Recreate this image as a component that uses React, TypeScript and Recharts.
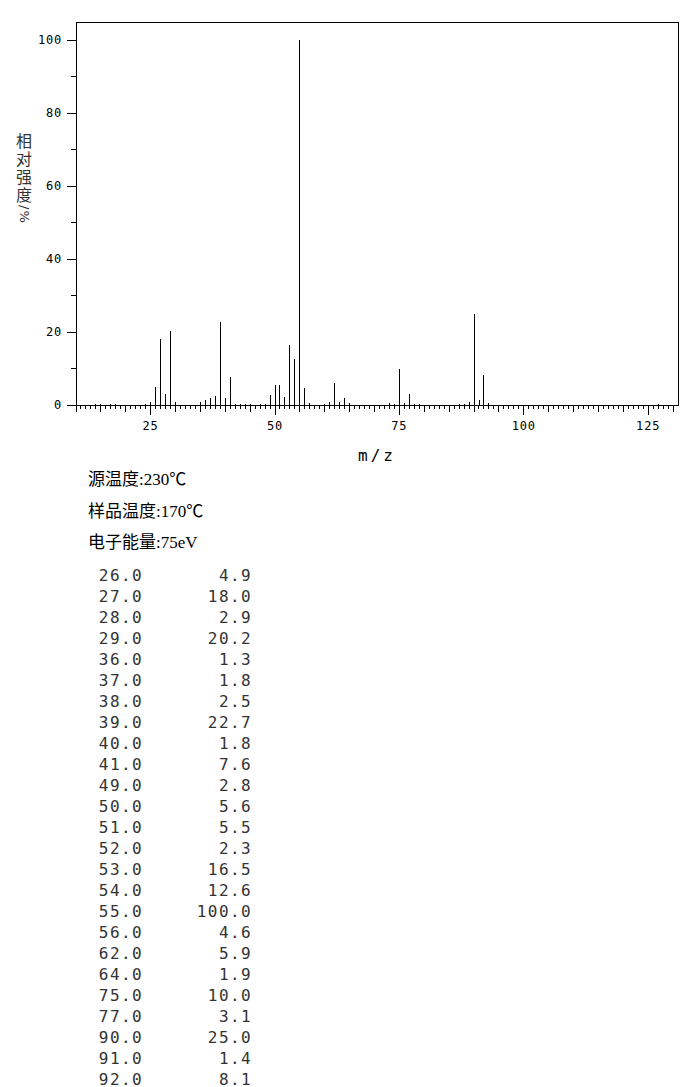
import React from "react";
import {
  BarChart,
  Bar,
  XAxis,
  YAxis,
  ReferenceArea,
} from "recharts";

// main peaks (listed in the table under the chart)
const peakMz = [
  26, 27, 28, 29, 36, 37, 38, 39, 40, 41, 49, 50, 51, 52, 53, 54, 55, 56, 62,
  64, 75, 77, 90, 91, 92,
];
const peakIntensity = [
  4.9, 18.0, 2.9, 20.2, 1.3, 1.8, 2.5, 22.7, 1.8, 7.6, 2.8, 5.6, 5.5, 2.3,
  16.5, 12.6, 100.0, 4.6, 5.9, 1.9, 10.0, 3.1, 25.0, 1.4, 8.1,
];

// small peaks only visible in the spectrum
const minorMz = [
  14, 15, 17, 18, 24, 25, 30, 35, 42, 43, 44, 45, 47, 48, 57, 60, 61, 63, 65,
  73, 74, 76, 78, 79, 87, 88, 89, 93, 127,
];
const minorIntensity = [
  0.4, 0.4, 0.4, 0.4, 0.4, 0.7, 0.7, 0.9, 0.4, 0.4, 0.4, 0.4, 0.4, 0.4, 0.5,
  0.4, 0.9, 0.9, 0.5, 0.6, 0.4, 0.5, 0.4, 0.4, 0.4, 0.4, 0.9, 0.5, 0.4,
];

const xTicks = Array.from({ length: 121 }, (_, i) => 10 + i);
const yTicks = [0, 10, 20, 30, 40, 50, 60, 70, 80, 90, 100];

const yLabelText = "相对强度";
const yLabelUnit = "/%";
const infoLines = ["源温度:230℃", "样品温度:170℃", "电子能量:75eV"];

const data = [
  ...peakMz.map((mz, i) => ({ mz, intensity: peakIntensity[i] })),
  ...minorMz.map((mz, i) => ({ mz, intensity: minorIntensity[i] })),
].sort((a, b) => a.mz - b.mz);

const tickFont = "'DejaVu Sans Mono', monospace";

function XTick(props: any) {
  const { x, y, payload } = props;
  const v = payload.value as number;
  const len = v % 25 === 0 ? 10 : v % 5 === 0 ? 7 : 4;
  return (
    <g>
      <line x1={x} x2={x} y1={y} y2={y + len} stroke="#000" />
      {v % 25 === 0 && (
        <text
          x={x}
          y={y + 21}
          dy="0.35em"
          textAnchor="middle"
          fontSize={12}
          fontFamily={tickFont}
          letterSpacing={0.8}
          fill="#000"
        >
          {v}
        </text>
      )}
    </g>
  );
}

function YTick(props: any) {
  const { x, y, payload } = props;
  const v = payload.value as number;
  const major = v % 20 === 0;
  return (
    <g>
      <line x1={x - (major ? 9 : 5)} x2={x} y1={y} y2={y} stroke="#000" />
      {major && (
        <text
          x={x - 14}
          y={y}
          dy="0.35em"
          textAnchor="end"
          fontSize={12}
          fontFamily={tickFont}
          letterSpacing={0.8}
          fill="#000"
        >
          {v}
        </text>
      )}
    </g>
  );
}

function Stick(props: any) {
  const { x, y, width, height } = props;
  if (!height) return null;
  const cx = x + width / 2;
  return <line x1={cx} x2={cx} y1={y} y2={y + height} stroke="#000" strokeWidth={1} />;
}

const tableCell: React.CSSProperties = {
  position: "absolute",
  height: 14,
  lineHeight: "14px",
  textAlign: "right",
  fontFamily: tickFont,
  fontSize: 16,
  letterSpacing: 1.4,
  color: "#333",
};

export default function App() {
  return (
    <div
      style={{
        position: "absolute",
        left: 0,
        top: 0,
        width: 687,
        height: 1087,
        background: "#fff",
        shapeRendering: "crispEdges",
        overflow: "hidden",
      }}
    >
      <BarChart
        width={687}
        height={465}
        data={data}
        margin={{ top: 22, right: 9, left: 16, bottom: 0 }}
      >
        <XAxis
          dataKey="mz"
          type="number"
          domain={[10, 131]}
          ticks={xTicks}
          interval={0}
          tickSize={0}
          tickMargin={0}
          tickLine={false}
          axisLine={{ stroke: "#000" }}
          tick={<XTick />}
          height={60}
          allowDataOverflow
          label={{
            value: "m/z",
            position: "insideBottom",
            offset: 4,
            fontSize: 16,
            fontFamily: tickFont,
            letterSpacing: 3,
            fill: "#000",
          }}
        />
        <YAxis
          type="number"
          domain={[0, 105]}
          ticks={yTicks}
          interval={0}
          tickSize={0}
          tickMargin={0}
          tickLine={false}
          axisLine={{ stroke: "#000" }}
          tick={<YTick />}
          width={60}
          allowDataOverflow
        />
        <ReferenceArea
          x1={10}
          x2={131}
          y1={0}
          y2={105}
          fill="none"
          fillOpacity={0}
          stroke="#000"
          strokeOpacity={1}
        />
        <Bar
          dataKey="intensity"
          barSize={1}
          shape={<Stick />}
          isAnimationActive={false}
        />
      </BarChart>

      <div
        style={{
          position: "absolute",
          left: 14,
          top: 133,
          writingMode: "vertical-rl",
          fontFamily: "'Noto Sans CJK SC', sans-serif",
          fontSize: 16,
          lineHeight: "20px",
          letterSpacing: 2,
          color: "#333",
          whiteSpace: "nowrap",
        }}
      >
        {yLabelText}
        <span style={{ fontFamily: "'DejaVu Sans', sans-serif", fontSize: 13, letterSpacing: 1 }}>
          {yLabelUnit}
        </span>
      </div>

      {infoLines.map((t, i) => (
        <div
          key={t}
          style={{
            position: "absolute",
            left: 88,
            top: 469 + i * 31.5,
            height: 22,
            lineHeight: "22px",
            fontFamily: "'Liberation Serif', 'Noto Sans CJK SC', serif",
            fontSize: 17,
            color: "#000",
            whiteSpace: "nowrap",
          }}
        >
          {t}
        </div>
      ))}

      {peakMz.map((mz, i) => (
        <React.Fragment key={mz}>
          <div style={{ ...tableCell, left: 60, width: 83, top: 569 + i * 21 }}>
            {mz.toFixed(1)}
          </div>
          <div style={{ ...tableCell, left: 150, width: 102, top: 569 + i * 21 }}>
            {peakIntensity[i].toFixed(1)}
          </div>
        </React.Fragment>
      ))}
    </div>
  );
}
